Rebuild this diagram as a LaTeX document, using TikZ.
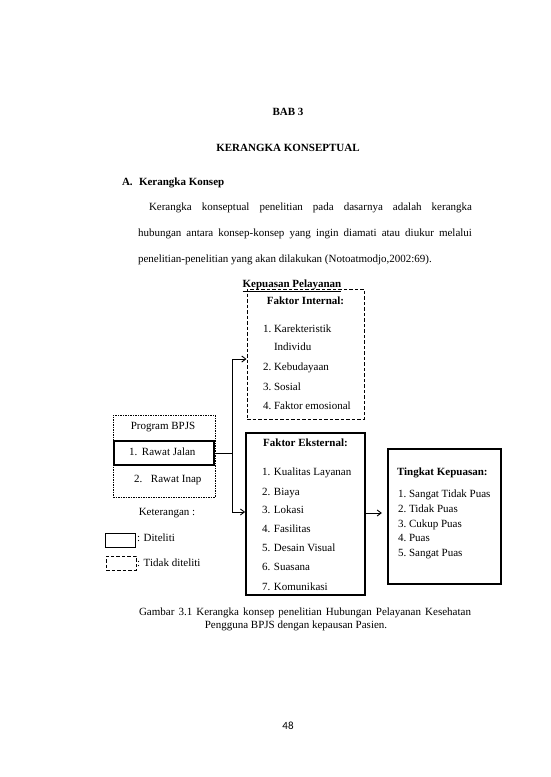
\documentclass[tikz,border=0pt]{standalone}
\usepackage{fontspec}
\setmainfont{Liberation Serif}
\newfontfamily\pagefont{Carlito}
\usetikzlibrary{arrows.meta}
\begin{document}
\begin{tikzpicture}[x=1pt,y=-1pt,
  txt/.style={inner sep=0pt,outer sep=0pt,font=\fontsize{11}{13}\selectfont},
  lt/.style={txt,anchor=base west},
  ct/.style={txt,anchor=base},
  boxsolid/.style={draw,line width=1.8pt,inner sep=0pt},
  boxdash/.style={draw,line width=1pt,dash pattern=on 3.5pt off 2pt,inner sep=0pt},
  boxdot/.style={draw,line width=0.5pt,dash pattern=on 1.5pt off 1pt,inner sep=0pt},
  conn/.style={line width=0.9pt},
  arr/.style={conn,-{Straight Barb[length=4pt,width=6pt]}}]
\useasboundingbox[fill=white] (0,0) rectangle (550,777);
% heading and paragraph
\node[ct,font=\fontsize{11}{13}\selectfont\bfseries] (bab) at (288,115.6) {BAB 3};
\node[ct,font=\fontsize{11}{13}\selectfont\bfseries] (judul) at (288,151.6) {KERANGKA KONSEPTUAL};
\node[lt,font=\fontsize{11}{13}\selectfont\bfseries] (suba) at (122,185) {A.};
\node[lt,font=\fontsize{11}{13}\selectfont\bfseries] (subt) at (139,185) {Kerangka Konsep};
\node[lt] (p1) at (149,210.5) {\makebox[323pt][s]{Kerangka konseptual penelitian pada dasarnya adalah kerangka}};
\node[lt] (p2) at (138,236.5) {\makebox[334pt][s]{hubungan antara konsep-konsep yang ingin diamati atau diukur melalui}};
\node[lt] (p3) at (138,262.5) {penelitian-penelitian yang akan dilakukan (Notoatmodjo,2002:69).};
% boxes
\node[boxdash,minimum width=117pt,minimum height=130pt] (fi) at (305.5,354) {};
\node[boxsolid,minimum width=119pt,minimum height=162pt] (fe) at (305.5,514) {};
\node[boxsolid,minimum width=113pt,minimum height=135pt] (tk) at (444.5,516.5) {};
\node[boxdot,minimum width=102pt,minimum height=82pt] (pb) at (164,456) {};
\node[boxsolid,minimum width=100pt,minimum height=24pt] (rj) at (164,453) {};
\node[boxsolid,minimum width=30pt,minimum height=14pt] (ls) at (120.5,540.5) {};
\node[boxdash,minimum width=30pt,minimum height=14pt] (ld) at (121,563) {};
% internal
\node[ct,font=\fontsize{11}{13}\selectfont\bfseries] (kp) at (292,287.5) {\underline{Kepuasan Pelayanan}};
\node[ct,font=\fontsize{11}{13}\selectfont\bfseries] (fit) at (305.5,304.5) {Faktor Internal:};
\node[lt] (fi1) at (263,332.5) {\makebox[11pt][l]{1.}Karekteristik};
\node[lt] (fi1b) at (274,350.5) {Individu};
\node[lt] (fi2) at (263,370.5) {\makebox[11pt][l]{2.}Kebudayaan};
\node[lt] (fi3) at (263,390.5) {\makebox[11pt][l]{3.}Sosial};
\node[lt] (fi4) at (263,409.5) {\makebox[11pt][l]{4.}Faktor emosional};
% external
\node[ct,font=\fontsize{11}{13}\selectfont\bfseries] (fet) at (305.5,446.5) {Faktor Eksternal:};
\node[lt] (fe1) at (262,475.5) {\makebox[12pt][l]{1.}Kualitas Layanan};
\node[lt] (fe2) at (262,495.5) {\makebox[12pt][l]{2.}Biaya};
\node[lt] (fe3) at (262,513.5) {\makebox[12pt][l]{3.}Lokasi};
\node[lt] (fe4) at (262,532.5) {\makebox[12pt][l]{4.}Fasilitas};
\node[lt] (fe5) at (262,551.5) {\makebox[12pt][l]{5.}Desain Visual};
\node[lt] (fe6) at (262,570.5) {\makebox[12pt][l]{6.}Suasana};
\node[lt] (fe7) at (262,590.5) {\makebox[12pt][l]{7.}Komunikasi};
% tingkat
\node[lt,font=\fontsize{11}{13}\selectfont\bfseries] (tkt) at (397,475.5) {Tingkat Kepuasan:};
\node[lt] (tk1) at (398,497.5) {\makebox[11pt][l]{1.}Sangat Tidak Puas};
\node[lt] (tk2) at (398,512.5) {\makebox[11pt][l]{2.}Tidak Puas};
\node[lt] (tk3) at (398,527.5) {\makebox[11pt][l]{3.}Cukup Puas};
\node[lt] (tk4) at (398,541.5) {\makebox[11pt][l]{4.}Puas};
\node[lt] (tk5) at (398,556.5) {\makebox[11pt][l]{5.}Sangat Puas};
% program
\node[ct] (pbt) at (163,429.5) {Program BPJS};
\node[lt] (rjt) at (129,455.5) {\makebox[13pt][l]{1.}Rawat Jalan};
\node[lt] (rit) at (134,482.5) {\makebox[17pt][l]{2.}Rawat Inap};
\node[ct] (ket) at (167,515.5) {Keterangan :};
\node[lt] (lst) at (137,541.5) {: Diteliti};
\node[lt] (ldt) at (137,566.5) {: Tidak diteliti};
% connectors
\coordinate (sp) at (232.5,453);
\draw[conn] (rj.east) -- (sp);
\draw[arr] (sp) |- ([yshift=-5pt]fi.west);
\draw[arr] (sp) |- ([yshift=2pt]fe.west);
\draw[arr] ([yshift=1pt]fe.east) -- ++(16,0);
% caption
\node[lt] (cap1) at (139,615) {\makebox[332pt][s]{Gambar 3.1 Kerangka konsep penelitian Hubungan Pelayanan Kesehatan}};
\node[ct] (cap2) at (296,628.5) {Pengguna BPJS dengan kepausan Pasien.};
\node[ct,font=\pagefont\fontsize{11}{13}\selectfont] (pg) at (288,729.5) {48};
\end{tikzpicture}
\end{document}
